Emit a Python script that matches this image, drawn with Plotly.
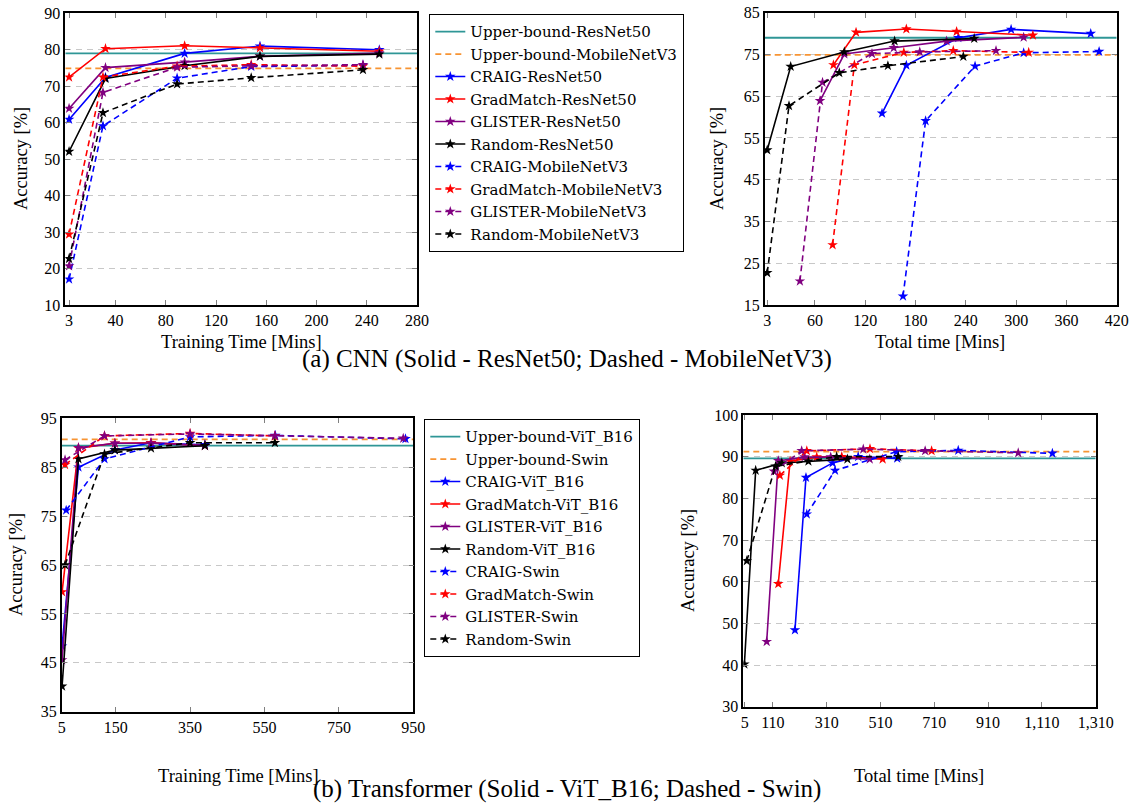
import plotly.graph_objects as go

FONT = "Liberation Serif, Times New Roman, serif"
LEG_FONT = "DejaVu Serif, serif"
W, H = 1134, 803

# ---------------- CNN data ----------------
R50_TRAIN = [3, 32, 95, 155, 250]
MOB_TRAIN = [3, 30, 89, 148, 237]

CRAIG_R50 = [60.9, 72.4, 79.0, 81.0, 80.0]
GM_R50 = [72.5, 80.3, 81.1, 80.5, 79.6]
GL_R50 = [63.9, 75.1, 76.6, 78.2, 79.1]
RND_R50 = [52.1, 72.1, 75.6, 78.2, 78.8]
CRAIG_MOB = [17.1, 59.1, 72.2, 75.4, 75.7]
GM_MOB = [29.4, 72.5, 75.5, 75.9, 75.5]
GL_MOB = [20.7, 68.3, 75.2, 75.6, 75.9]
RND_MOB = [22.7, 62.7, 70.6, 72.3, 74.5]

CRAIG_R50_TOT = [140, 169, 231, 294, 389]
GM_R50_TOT = [82, 109, 169, 229, 320]
GL_R50_TOT = [66, 95, 154, 217, 309]
RND_R50_TOT = [3, 31, 95, 155, 250]
CRAIG_MOB_TOT = [165, 192, 251, 309, 399]
GM_MOB_TOT = [81, 107, 166, 225, 315]
GL_MOB_TOT = [42, 69, 128, 185, 276]
RND_MOB_TOT = [3, 29, 89, 147, 237]

UB_R50 = 79.0
UB_MOB = 74.9

# ---------------- Transformer data ----------------
VIT_TRAIN = [6, 50, 148, 245, 390]
CRAIG_SWIN_TRAIN = [17, 120, 350, 579, 929]
GM_SWIN_TRAIN = [14, 120, 350, 578]
GL_SWIN_TRAIN = [14, 120, 350, 578, 923]
RND_SWIN_TRAIN = [14, 120, 350, 578]

CRAIG_VIT = [48.4, 85.0, 88.5, 90.0, 89.6]
GM_VIT = [59.5, 88.9, 89.9, 90.0, 89.4]
GL_VIT = [45.6, 89.0, 89.9, 89.9, 89.4]
RND_VIT = [40.2, 86.7, 88.5, 88.9, 89.4]
CRAIG_SWIN = [76.2, 86.7, 91.2, 91.5, 90.8]
GM_SWIN = [85.5, 91.4, 91.9, 91.4]
GL_SWIN = [86.5, 91.4, 91.8, 91.4, 90.9]
RND_SWIN = [65.0, 87.7, 90.0, 90.0]

CRAIG_VIT_TOT = [192, 233, 332, 427, 572]
GM_VIT_TOT = [130, 174, 273, 366, 518]
GL_VIT_TOT = [87, 130, 228, 325, 470]
RND_VIT_TOT = [4, 46, 143, 242, 387]
CRAIG_SWIN_TOT = [236, 341, 570, 799, 1149]
GM_SWIN_TOT = [136, 236, 471, 700]
GL_SWIN_TOT = [114, 217, 446, 676, 1022]
RND_SWIN_TOT = [13, 120, 347, 576]

UB_VIT_L, UB_SWIN_L = 89.4, 90.7
UB_VIT_R, UB_SWIN_R = 89.6, 91.2

# ---------------- ticks ----------------
TL_XTICKS = [3, 40, 80, 120, 160, 200, 240, 280]
TR_XTICKS = [3, 60, 120, 180, 240, 300, 360, 420]
BL_XTICKS = [5, 150, 350, 550, 750, 950]
BR_XTICKS = [5, 110, 310, 510, 710, 910, 1110, 1310]
BR_XLABELS = ["5", "110", "310", "510", "710", "910", "1,110", "1,310"]
TL_YTICKS = list(range(10, 91, 10))
TR_YTICKS = list(range(15, 86, 10))
BL_YTICKS = list(range(35, 96, 10))
BR_YTICKS = list(range(30, 101, 10))

BLUE, RED, PURPLE, BLACK = "#0000ff", "#ff0000", "#800080", "#000000"
TEAL, ORANGE = "#2f9696", "#f79433"
DASH = "6px,4px"

fig = go.Figure()


def series(x, y, name, color, dash, xa, ya, legend, show):
    fig.add_trace(go.Scatter(
        x=x, y=y, name=name, mode="lines+markers",
        line=dict(color=color, width=1.6, dash=dash),
        marker=dict(symbol="star", size=8, color=color, line=dict(width=0)),
        xaxis=xa, yaxis=ya, legend=legend, showlegend=show))


def bound(xr, yv, name, color, dash, xa, ya, legend, show):
    fig.add_trace(go.Scatter(
        x=xr, y=[yv, yv], name=name, mode="lines",
        line=dict(color=color, width=1.8, dash=dash),
        xaxis=xa, yaxis=ya, legend=legend, showlegend=show))


TL_RANGE = [0, 280]
TR_RANGE = [0, 420]
BL_RANGE = [5, 950]
BR_RANGE = [0, 1310]

# ----- CNN panels -----
for xa, ya, xr, show, sets in [
    ("x", "y", TL_RANGE, True,
     [R50_TRAIN] * 4 + [MOB_TRAIN] * 4),
    ("x2", "y2", TR_RANGE, False,
     [CRAIG_R50_TOT, GM_R50_TOT, GL_R50_TOT, RND_R50_TOT,
      CRAIG_MOB_TOT, GM_MOB_TOT, GL_MOB_TOT, RND_MOB_TOT]),
]:
    bound(xr, UB_R50, "Upper-bound-ResNet50", TEAL, "solid", xa, ya, "legend", show)
    bound(xr, UB_MOB, "Upper-bound-MobileNetV3", ORANGE, DASH, xa, ya, "legend", show)
    specs = [
        (CRAIG_R50, "CRAIG-ResNet50", BLUE, "solid"),
        (GM_R50, "GradMatch-ResNet50", RED, "solid"),
        (GL_R50, "GLISTER-ResNet50", PURPLE, "solid"),
        (RND_R50, "Random-ResNet50", BLACK, "solid"),
        (CRAIG_MOB, "CRAIG-MobileNetV3", BLUE, DASH),
        (GM_MOB, "GradMatch-MobileNetV3", RED, DASH),
        (GL_MOB, "GLISTER-MobileNetV3", PURPLE, DASH),
        (RND_MOB, "Random-MobileNetV3", BLACK, DASH),
    ]
    for xs, (ys, nm, col, ds) in zip(sets, specs):
        series(xs, ys, nm, col, ds, xa, ya, "legend", show)

# ----- Transformer panels -----
for xa, ya, xr, show, ubv, ubs, sets in [
    ("x3", "y3", BL_RANGE, True, UB_VIT_L, UB_SWIN_L,
     [VIT_TRAIN] * 4 + [CRAIG_SWIN_TRAIN, GM_SWIN_TRAIN, GL_SWIN_TRAIN, RND_SWIN_TRAIN]),
    ("x4", "y4", BR_RANGE, False, UB_VIT_R, UB_SWIN_R,
     [CRAIG_VIT_TOT, GM_VIT_TOT, GL_VIT_TOT, RND_VIT_TOT,
      CRAIG_SWIN_TOT, GM_SWIN_TOT, GL_SWIN_TOT, RND_SWIN_TOT]),
]:
    bound(xr, ubv, "Upper-bound-ViT_B16", TEAL, "solid", xa, ya, "legend2", show)
    bound(xr, ubs, "Upper-bound-Swin", ORANGE, DASH, xa, ya, "legend2", show)
    specs = [
        (CRAIG_VIT, "CRAIG-ViT_B16", BLUE, "solid"),
        (GM_VIT, "GradMatch-ViT_B16", RED, "solid"),
        (GL_VIT, "GLISTER-ViT_B16", PURPLE, "solid"),
        (RND_VIT, "Random-ViT_B16", BLACK, "solid"),
        (CRAIG_SWIN, "CRAIG-Swin", BLUE, DASH),
        (GM_SWIN, "GradMatch-Swin", RED, DASH),
        (GL_SWIN, "GLISTER-Swin", PURPLE, DASH),
        (RND_SWIN, "Random-Swin", BLACK, DASH),
    ]
    for xs, (ys, nm, col, ds) in zip(sets, specs):
        series(xs, ys, nm, col, ds, xa, ya, "legend2", show)


def fx(px):
    return px / W


def fy(py):
    return 1 - py / H


def px_x(a, b):
    return [fx(a), fx(b)]


def px_y(top, bottom):
    return [fy(bottom), fy(top)]


def xaxis(dom, anchor, rng, vals, text=None):
    d = dict(domain=dom, anchor=anchor, range=rng, tickvals=vals,
             showline=True, linecolor="black", linewidth=1.6, mirror="ticks",
             ticks="inside", ticklen=5, tickcolor="#808080", showgrid=False,
             zeroline=False, automargin=False, ticklabeloverflow="allow",
             tickfont=dict(family=FONT, size=16, color="black"))
    if text:
        d["ticktext"] = text
    return d


def yaxis(dom, anchor, rng, vals):
    return dict(domain=dom, anchor=anchor, range=rng, tickvals=vals,
                showline=True, linecolor="black", linewidth=1.6, mirror="ticks",
                ticks="inside", ticklen=5, tickcolor="#808080",
                showgrid=True, gridcolor="#c8c8c8", griddash="6px,5px", gridwidth=1,
                zeroline=False, automargin=False, ticklabeloverflow="allow",
                tickfont=dict(family=FONT, size=16, color="black"))


TL_X, TL_Y = px_x(65.3, 417), px_y(13.3, 305)
TR_X, TR_Y = px_x(764.7, 1116.7), px_y(12.7, 305)
BL_X, BL_Y = px_x(61.7, 413.3), px_y(418.3, 711.7)
BR_X, BR_Y = px_x(743.3, 1095.7), px_y(415, 706.7)

ann = []


def txt(x, y, s, size=18.5, angle=0):
    ann.append(dict(x=fx(x), y=fy(y), xref="paper", yref="paper", text=s,
                    showarrow=False, textangle=angle, xanchor="center", yanchor="middle",
                    font=dict(family=FONT, size=size, color="black")))


txt(241, 342, "Training Time [Mins]")
txt(940, 342, "Total time [Mins]")
txt(238, 776, "Training Time [Mins]")
txt(919, 776, "Total time [Mins]")
txt(21, 159, "Accuracy [%]", angle=-90)
txt(717, 159, "Accuracy [%]", angle=-90)
txt(16, 565, "Accuracy [%]", angle=-90)
txt(688, 561, "Accuracy [%]", angle=-90)
txt(567, 359, "(a) CNN (Solid - ResNet50; Dashed - MobileNetV3)", size=25)
txt(567, 789, "(b) Transformer (Solid - ViT_B16; Dashed - Swin)", size=25)

legend_style = dict(xanchor="left", yanchor="top", bordercolor="black", borderwidth=1.3,
                    bgcolor="white", font=dict(family=LEG_FONT, size=15, color="black"),
                    tracegroupgap=0, itemwidth=30, traceorder="normal")

fig.update_layout(
    width=W, height=H, margin=dict(l=0, r=0, t=0, b=0),
    paper_bgcolor="white", plot_bgcolor="white",
    font=dict(family=FONT, size=16, color="black"),
    xaxis=xaxis(TL_X, "y", TL_RANGE, TL_XTICKS),
    yaxis=yaxis(TL_Y, "x", [10, 90], TL_YTICKS),
    xaxis2=xaxis(TR_X, "y2", TR_RANGE, TR_XTICKS),
    yaxis2=yaxis(TR_Y, "x2", [15, 85], TR_YTICKS),
    xaxis3=xaxis(BL_X, "y3", BL_RANGE, BL_XTICKS),
    yaxis3=yaxis(BL_Y, "x3", [35, 95], BL_YTICKS),
    xaxis4=xaxis(BR_X, "y4", BR_RANGE, BR_XTICKS, BR_XLABELS),
    yaxis4=yaxis(BR_Y, "x4", [30, 100], BR_YTICKS),
    legend=dict(x=fx(429), y=fy(14), **legend_style),
    legend2=dict(x=fx(424), y=fy(419), **legend_style),
    annotations=ann,
)

fig.write_html(
    "out.html",
    config={"displayModeBar": False},
    post_script="document.body.style.margin='0';document.body.style.overflow='hidden';",
)
